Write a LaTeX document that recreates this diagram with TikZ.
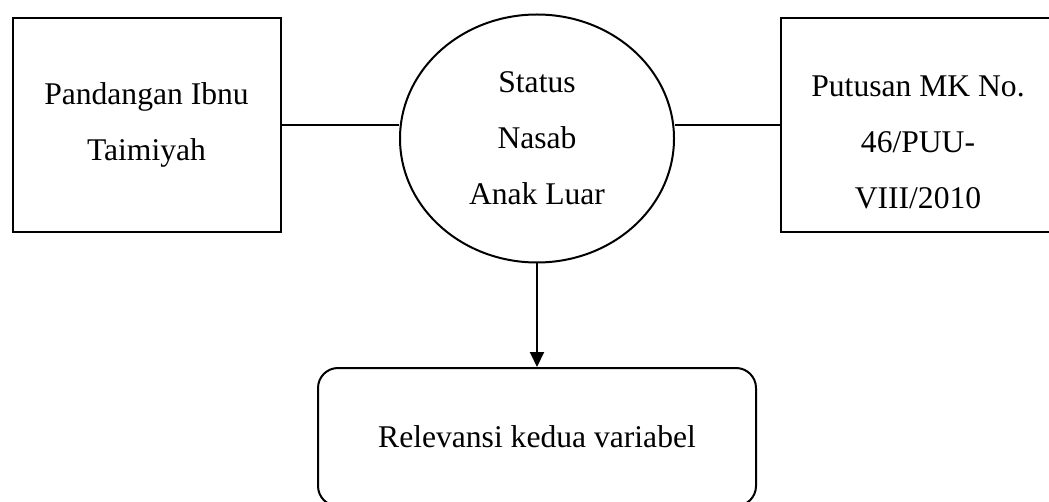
\documentclass[tikz,border=0pt]{standalone}
\usepackage{fontspec}
\setmainfont{Liberation Serif}
\usetikzlibrary{positioning,shapes.geometric,arrows.meta}

\tikzset{
  teks/.style={align=center,font=\fontsize{15.8}{28}\selectfont},
  kotak/.style={rectangle,draw,line width=1pt,minimum width=134pt,minimum height=107pt,inner sep=0pt},
  garis/.style={line width=1pt}
}

\begin{document}
\begin{tikzpicture}[x=0.5pt,y=-0.5pt]
  \useasboundingbox (0,0) rectangle (1049,502);
  \node[kotak,teks] (pandangan) at (146.5,125) {Pandangan Ibnu\\Taimiyah};
  \node[ellipse,draw,line width=1pt,minimum width=137pt,minimum height=124pt,inner sep=0pt,teks] (status) at (537,138.5) {Status\\Nasab\\Anak Luar};
  \node[kotak,minimum width=145pt] (putusan) at (926,125) {};
  \node[teks] (putusanteks) at (918,142) {Putusan MK No.\\46/PUU-\\VIII/2010};
  \node[rectangle,draw,line width=1pt,rounded corners=10pt,minimum width=219pt,minimum height=69pt,teks] (relevansi) at (537,437) {Relevansi kedua variabel};
  \draw[garis] (pandangan.east) -- (status.west |- pandangan.east);
  \draw[garis] (status.east |- putusan.west) -- (putusan.west);
  \draw[garis,-{Triangle[length=7.5pt,width=7pt]}] (status.south) -- (relevansi.north);
\end{tikzpicture}
\end{document}
